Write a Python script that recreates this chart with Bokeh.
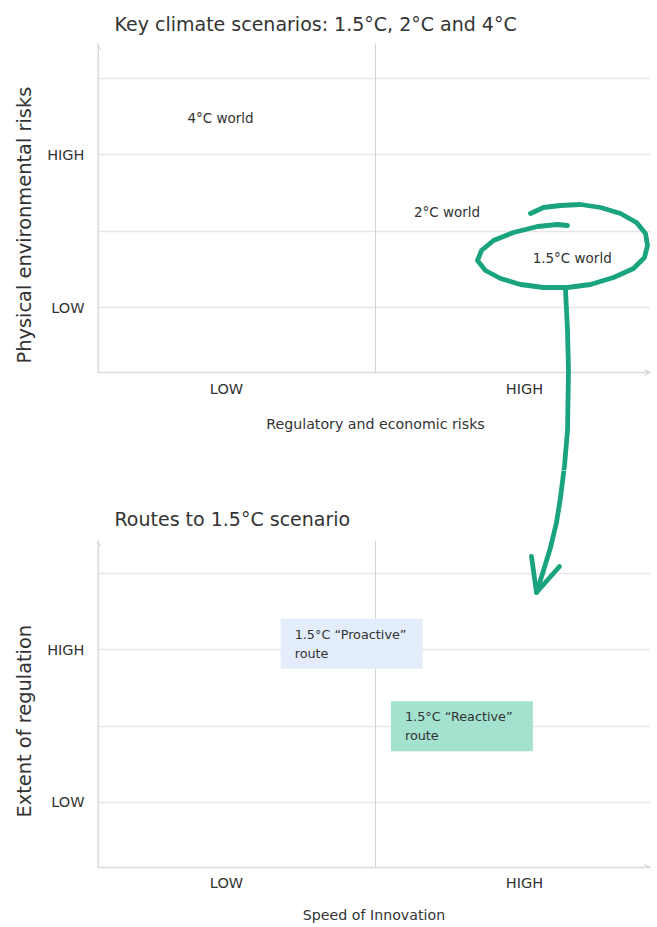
from bokeh.plotting import figure
from bokeh.models import FixedTicker, Arrow, VeeHead, Title
from bokeh.layouts import column
from bokeh.embed import file_html
from bokeh.resources import INLINE
from bokeh.core.properties import value

# ---------------- data ----------------
level_labels = ["LOW", "HIGH"]
x_level_pos = [0.5, 1.5]
y_level_pos = [1, 3]
grid_rows = [1, 2, 3, 4]
grid_cols = [1.0]

top_title = "Key climate scenarios: 1.5°C, 2°C and 4°C"
top_x_label = "Regulatory and economic risks"
top_y_label = "Physical environmental risks"
scenarios = ["4°C world", "2°C world", "1.5°C world"]
scenario_reg_risk = [0.48, 1.24, 1.66]
scenario_phys_risk = [3.48, 2.25, 1.65]

bottom_title = "Routes to 1.5°C scenario"
bottom_x_label = "Speed of Innovation"
bottom_y_label = "Extent of regulation"
routes = ["1.5°C “Proactive”\nroute", "1.5°C “Reactive”\nroute"]
route_speed = [0.92, 1.29]
route_regulation = [3.08, 2.0]
route_colors = ["#e3edfb", "#a3e2cf"]

# hand-drawn highlight (page pixels): loop round "1.5°C world", then arrow down
loop_px = [(530, 213), (543, 207), (560, 205), (580, 204), (600, 207), (620, 213),
           (636, 222), (645, 233), (647, 245), (644, 257), (633, 268), (613, 277),
           (590, 284), (567, 287), (543, 287), (520, 284), (500, 278), (485, 270),
           (477, 260), (481, 250), (493, 240), (513, 232), (537, 226), (557, 224),
           (567, 225)]
shaft_px = [(565, 289), (567, 330), (568, 370), (567, 430), (564, 465), (560, 497),
            (556, 522), (550, 547), (543, 570), (536, 592)]
head_px = [(531, 556), (536, 592), (559, 566)]

# ---------------- style / geometry ----------------
FONT = "DejaVu Sans"
TEXT = "#333333"
GREEN = "#19a47f"
AXIS = "#d9d9d9"
GRID = "#e6e6e6"
W = 657
X_C, X_UNIT = 375, 298            # page px of x=1.0, px per unit
TOP_Y4, TOP_UNIT = 77.5, 76.5     # page px of y=4 (top chart), px per unit
BOT_Y4, BOT_UNIT = 573, 76.33     # page px of y=4 (bottom chart), px per unit
X_RANGE = (1 + (97 - X_C) / X_UNIT, 1 + (650 - X_C) / X_UNIT)
AXIS_LOW = 0.15                   # where the horizontal axes cross
TOP_YR = (4 - (470 - TOP_Y4) / TOP_UNIT, 4 - (43 - TOP_Y4) / TOP_UNIT)
BOT_YR = (4 - (867 - BOT_Y4) / BOT_UNIT, 4 - (470 - BOT_Y4) / BOT_UNIT)


def px_x(px):
    return 1 + (px - X_C) / X_UNIT


def top_xy(pts):
    return [px_x(a) for a, _ in pts], [4 - (b - TOP_Y4) / TOP_UNIT for _, b in pts]


def bot_xy(pts):
    return [px_x(a) for a, _ in pts], [4 - (b - BOT_Y4) / BOT_UNIT for _, b in pts]


def base(height, y_range, top_b, bottom_b, x_axis):
    p = figure(width=W, height=height, x_range=X_RANGE, y_range=y_range,
               output_backend="svg", toolbar_location=None,
               x_axis_location=("below" if x_axis else None),
               min_border_left=97, min_border_right=W - 650,
               min_border_top=top_b, min_border_bottom=bottom_b)
    p.outline_line_color = None
    p.background_fill_color = "white"
    p.border_fill_color = "white"
    p.yaxis.ticker = FixedTicker(ticks=y_level_pos)
    p.yaxis.major_label_overrides = {y_level_pos[0]: level_labels[0], y_level_pos[1]: level_labels[1]}
    p.yaxis.axis_line_color = None
    p.yaxis.major_label_standoff = 7
    for ax in p.axis:
        ax.major_tick_line_color = None
        ax.minor_tick_line_color = None
        ax.major_label_text_font = FONT
        ax.major_label_text_font_size = "14.5px"
        ax.major_label_text_color = TEXT
        ax.axis_label_text_font = FONT
        ax.axis_label_text_font_style = "normal"
        ax.axis_label_text_color = TEXT
    p.ygrid.ticker = FixedTicker(ticks=grid_rows)
    p.ygrid.grid_line_color = GRID
    p.ygrid.grid_line_width = 1.5
    p.xgrid.visible = False
    return p


def side_title(p, text, offset):
    p.add_layout(Title(text=text, align="left", offset=offset, standoff=18,
                       text_font=FONT, text_font_size="19.4px", text_font_style="normal",
                       text_color=TEXT), "left")


def frame_lines(p, y_top):
    # vertical divider between LOW and HIGH, y axis line with arrow heads
    p.segment(x0=grid_cols, y0=[AXIS_LOW] * len(grid_cols), x1=grid_cols,
              y1=[y_top] * len(grid_cols), line_color="#d4d4d4", line_width=1)
    p.segment(x0=[X_RANGE[0]], y0=[AXIS_LOW], x1=[X_RANGE[0]], y1=[y_top],
              line_color=AXIS, line_width=3)
    p.add_layout(Arrow(end=VeeHead(size=6, fill_color=AXIS, line_color=AXIS, line_width=1),
                       x_start=X_RANGE[0], y_start=y_top - 0.2,
                       x_end=X_RANGE[0], y_end=y_top, line_alpha=0))
    p.add_layout(Arrow(end=VeeHead(size=6, fill_color=AXIS, line_color=AXIS, line_width=1),
                       x_start=X_RANGE[1] - 0.1, y_start=AXIS_LOW,
                       x_end=X_RANGE[1], y_end=AXIS_LOW, line_alpha=0))


def stroke(p, xs, ys):
    p.line(xs, ys, line_color=GREEN, line_width=4.8, line_cap="round", line_join="round")


# ---------------- top chart ----------------
p1 = base(470, TOP_YR, 43, 0, x_axis=False)
p1.title.text = top_title
p1.title.text_font = FONT
p1.title.text_font_size = "19px"
p1.title.text_font_style = "normal"
p1.title.text_color = TEXT
p1.title.offset = 17
p1.title.standoff = 18
side_title(p1, top_y_label, 470 - 363)
frame_lines(p1, TOP_YR[1])
# horizontal axis of the top chart (its frame reaches down to let the highlight pass)
p1.segment(x0=[X_RANGE[0]], y0=[AXIS_LOW], x1=[X_RANGE[1]], y1=[AXIS_LOW],
           line_color=AXIS, line_width=1.5)
p1.text(x=x_level_pos, y=[AXIS_LOW - 16 / TOP_UNIT] * 2, text=level_labels,
        text_font=value(FONT), text_font_size="14.5px", text_color=TEXT,
        text_align="center", text_baseline="middle")
p1.text(x=[1.0], y=[AXIS_LOW - 51 / TOP_UNIT], text=[top_x_label],
        text_font=value(FONT), text_font_size="14.2px", text_color=TEXT,
        text_align="center", text_baseline="middle")
p1.text(x=scenario_reg_risk, y=scenario_phys_risk, text=scenarios,
        text_font=value(FONT), text_font_size="13.5px", text_color=TEXT,
        text_align="center", text_baseline="middle")
stroke(p1, *top_xy(loop_px))
stroke(p1, *top_xy(shaft_px))

# ---------------- bottom chart ----------------
p2 = base(457, BOT_YR, 0, 60, x_axis=True)
p2.title.visible = False
p2.xaxis.ticker = FixedTicker(ticks=x_level_pos)
p2.xaxis.major_label_overrides = {x_level_pos[0]: level_labels[0], x_level_pos[1]: level_labels[1]}
p2.xaxis.axis_line_color = AXIS
p2.xaxis.axis_line_width = 1.5
p2.xaxis.major_label_standoff = 1
p2.xaxis.axis_label = bottom_x_label
p2.xaxis.axis_label_text_font_size = "14.2px"
p2.xaxis.axis_label_standoff = 13
side_title(p2, bottom_y_label, 867 - 817)
bot_axis_top = 4 - (540 - BOT_Y4) / BOT_UNIT
frame_lines(p2, bot_axis_top)
p2.text(x=[px_x(114)], y=[4 - (518 - BOT_Y4) / BOT_UNIT], text=[bottom_title],
        text_font=value(FONT), text_font_size="19px", text_color=TEXT,
        text_align="left", text_baseline="middle")
p2.rect(x=route_speed, y=route_regulation, width=142, height=50,
        width_units="screen", height_units="screen",
        fill_color=route_colors, line_color=None)
p2.text(x=route_speed, y=route_regulation, text=routes, x_offset=-57,
        text_font=value(FONT), text_font_size="12.8px", text_color=TEXT,
        text_align="left", text_baseline="middle", text_line_height=1.24)
stroke(p2, *bot_xy(shaft_px))
stroke(p2, *bot_xy(head_px))

layout = column(p1, p2)
open("out.html", "w").write(file_html(layout, INLINE))
